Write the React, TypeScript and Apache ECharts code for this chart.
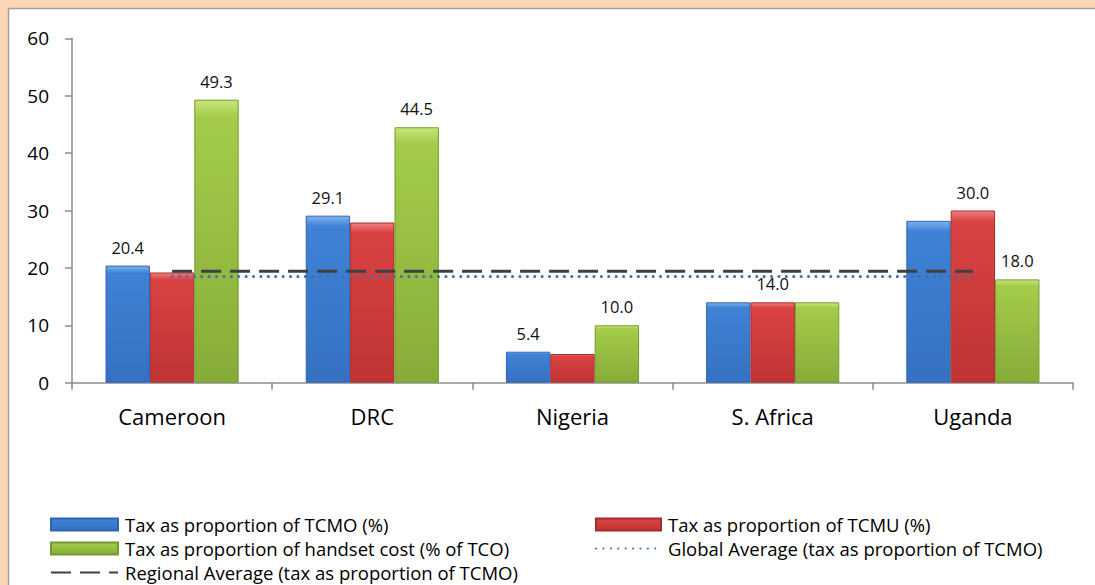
import React, { useEffect, useRef } from "react";
import * as echarts from "echarts";

const categories = ["Cameroon", "DRC", "Nigeria", "S. Africa", "Uganda"];
const tcmo = [20.4, 29.1, 5.4, 14.0, 28.2];
const tcmu = [19.2, 27.9, 5.0, 14.0, 30.0];
const handset = [49.3, 44.5, 10.0, 14.0, 18.0];
const globalAvg = [18.5, 18.5, 18.5, 18.5, 18.5];
const regionalAvg = [19.4, 19.4, 19.4, 19.4, 19.4];
const tcmoLabelled = [true, true, true, false, false];
const tcmuLabelled = [false, false, false, true, true];
const handsetLabelled = [true, true, true, false, true];
const yMin = 0;
const yMax = 60;
const yStep = 10;

const names = {
  tcmo: "Tax as proportion of TCMO (%)",
  tcmu: "Tax as proportion of TCMU (%)",
  handset: "Tax as proportion of handset cost (% of TCO)",
  global: "Global Average (tax as proportion of TCMO)",
  regional: "Regional Average (tax as proportion of TCMO)",
};

const FONT = "'Open Sans', sans-serif";

function grad(top: string, mid: string, bottom: string) {
  return new echarts.graphic.LinearGradient(0, 0, 0, 1, [
    { offset: 0, color: top },
    { offset: 0.06, color: mid },
    { offset: 1, color: bottom },
  ]);
}

function barSeries(name: string, values: number[], shown: boolean[], fill: any, border: string) {
  return {
    name,
    type: "bar",
    barGap: "0%",
    barCategoryGap: "33.5%",
    itemStyle: { color: fill, borderColor: border, borderWidth: 1 },
    data: values.map((v, i) => ({
      value: v,
      label: {
        show: shown[i],
        position: "top",
        distance: 10,
        formatter: (p: any) => Number(p.value).toFixed(1),
        fontFamily: FONT,
        fontSize: 16.5,
        color: "#111",
      },
    })),
  };
}

const legendText = { fontFamily: FONT, fontSize: 18.5, color: "#000", lineHeight: 18, padding: [0, 0, 0, 2] };
const hideSymbol = { opacity: 0 };

export default function App() {
  const ref = useRef<HTMLDivElement>(null);
  useEffect(() => {
    const chart = echarts.init(ref.current!, undefined, { renderer: "svg" });
    const blue = grad("#7FB2EE", "#3F82D6", "#3571C2");
    const red = grad("#F08080", "#DA4242", "#C03434");
    const green = grad("#C8E67A", "#A4CC4A", "#86AC38");
    chart.setOption({
      animation: false,
      backgroundColor: "#FCD5B4",
      graphic: [
        {
          type: "rect",
          z: -10,
          shape: { x: 8.5, y: 8.5, width: 1200, height: 700 },
          style: { fill: "#FFFFFF", stroke: "#A0A0A0", lineWidth: 1.5 },
        },
      ],
      grid: { left: 72, right: 22, top: 38.3, bottom: 202.3 },
      xAxis: {
        type: "category",
        data: categories,
        boundaryGap: true,
        axisLine: { lineStyle: { color: "#8C8C8C", width: 1.5 } },
        axisTick: { show: true, length: 7, lineStyle: { color: "#8C8C8C", width: 1.5 } },
        axisLabel: { fontFamily: FONT, fontSize: 22, color: "#000", margin: 22 },
      },
      yAxis: {
        type: "value",
        min: yMin,
        max: yMax,
        interval: yStep,
        splitLine: { show: false },
        axisLine: { show: true, lineStyle: { color: "#8C8C8C", width: 1.5 } },
        axisTick: { show: true, length: 7, lineStyle: { color: "#8C8C8C", width: 1.5 } },
        axisLabel: { fontFamily: FONT, fontSize: 19, color: "#000", margin: 23 },
      },
      legend: [
        {
          orient: "vertical",
          left: 50,
          top: 515,
          height: 100,
          padding: 0,
          itemWidth: 67,
          itemHeight: 12,
          itemGap: 5,
          textStyle: legendText,
          data: [
            { name: names.tcmo, icon: "rect" },
            { name: names.handset, icon: "rect" },
            { name: names.regional, itemStyle: hideSymbol },
          ],
        },
        {
          orient: "vertical",
          left: 595,
          top: 515,
          height: 100,
          padding: 0,
          itemWidth: 65,
          itemHeight: 12,
          itemGap: 5,
          textStyle: legendText,
          data: [
            { name: names.tcmu, icon: "rect" },
            { name: names.global, itemStyle: hideSymbol },
          ],
        },
      ],
      series: [
        barSeries(names.tcmo, tcmo, tcmoLabelled, blue, "#2F64AE"),
        barSeries(names.tcmu, tcmu, tcmuLabelled, red, "#A82C2C"),
        barSeries(names.handset, handset, handsetLabelled, green, "#759A30"),
        {
          name: names.global,
          type: "line",
          data: globalAvg,
          symbol: "none",
          z: 5,
          lineStyle: { color: "#3E6FB0", width: 3, type: [0.1, 7.3], cap: "round" },
          itemStyle: { color: "#3E6FB0" },
        },
        {
          name: names.regional,
          type: "line",
          data: regionalAvg,
          symbol: "none",
          z: 6,
          lineStyle: { color: "#404040", width: 3, type: [20, 9] },
          itemStyle: { color: "#404040" },
        },
      ],
    });
    return () => chart.dispose();
  }, []);
  return (
    <div
      ref={ref}
      style={{ position: "fixed", left: 0, top: 0, width: 1095, height: 585 }}
    />
  );
}
